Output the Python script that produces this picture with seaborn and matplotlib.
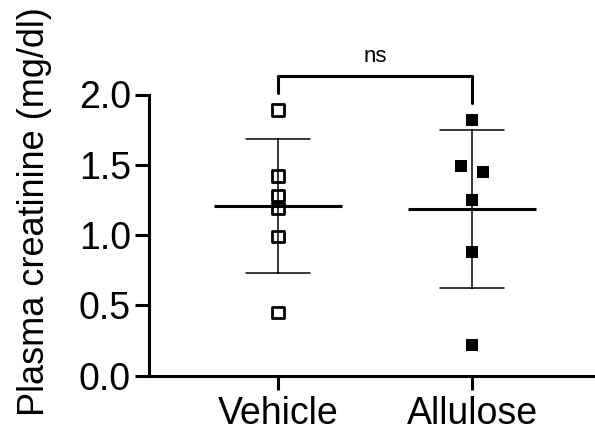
import numpy as np
import pandas as pd
import matplotlib.pyplot as plt
import seaborn as sns

# values
groups = ["Vehicle", "Allulose"]
vehicle = [1.89, 1.42, 1.28, 1.19, 0.99, 0.45]
allulose = [1.82, 1.49, 1.45, 1.25, 0.88, 0.22]
y_ticks = [0.0, 0.5, 1.0, 1.5, 2.0]
y_label = "Plasma creatinine (mg/dl)"
sig_label = "ns"

df = pd.DataFrame({
    "group": ["Vehicle"] * len(vehicle) + ["Allulose"] * len(allulose),
    "value": vehicle + allulose,
})


def spread(vals, gap=0.06, step=0.059):
    # side-by-side placement for points that would sit on top of each other
    vals = np.asarray(vals)
    off = np.zeros(len(vals))
    order = np.argsort(-vals)
    i = 0
    while i < len(order):
        j = i
        while j + 1 < len(order) and vals[order[i]] - vals[order[j + 1]] < gap:
            j += 1
        n = j - i + 1
        if n > 1:
            for k in range(n):
                off[order[i + k]] = (k - (n - 1) / 2) * 2 * step
        i = j + 1
    return off


df["pos"] = df["group"].map({g: i for i, g in enumerate(groups)})
df["xpos"] = df["pos"] + np.concatenate([spread(vehicle), spread(allulose)])

sns.set_style("ticks")
plt.rcParams["font.family"] = ["Liberation Sans", "DejaVu Sans"]
plt.rcParams["text.color"] = "black"
plt.rcParams["axes.labelcolor"] = "black"

fig = plt.figure(figsize=(5.95, 4.43), dpi=100)
ax = fig.add_axes([149 / 595, 67.5 / 443, 451 / 595, 281 / 443])

# mean line + SD error bars
sns.pointplot(data=df, x="group", y="value", order=groups, errorbar="sd",
              capsize=0.33, color="black", marker="_", markersize=92,
              markeredgewidth=2.2, linestyle="none",
              err_kws={"linewidth": 1.1}, ax=ax)

veh = df[df["group"] == "Vehicle"]
all_ = df[df["group"] == "Allulose"]
sns.scatterplot(x=veh["xpos"], y=veh["value"], marker="s", s=64,
                facecolor="none", edgecolor="black", linewidth=2.0,
                zorder=5, ax=ax)
sns.scatterplot(x=all_["xpos"], y=all_["value"], marker="s", s=80,
                color="black", linewidth=0, zorder=5, ax=ax)

# significance bracket
top_v = max(vehicle) + 0.12
top_a = max(allulose) + 0.12
bar = max(vehicle + allulose) + 0.24
ax.plot([0, 0, 1, 1], [top_v, bar, bar, top_a], color="black", lw=2.2,
        clip_on=False)
ax.text(0.5, bar + 0.1, sig_label, ha="center", va="baseline", fontsize=16,
        color="black")

ax.set_xlim(-0.665, -0.665 + 451 / 194)
ax.set_ylim(0, 2.0)
ax.set_xticks(range(len(groups)))
ax.set_xticklabels(groups)
ax.set_yticks(y_ticks)
ax.set_yticklabels([f"{t:.1f}" for t in y_ticks])
ax.set_xlabel("")
ax.set_ylabel(y_label, fontsize=26, color="black")
ax.yaxis.set_label_coords(-0.215, 0.584)

for side in ["top", "right"]:
    ax.spines[side].set_visible(False)
for side in ["left", "bottom"]:
    ax.spines[side].set_linewidth(2.2)
    ax.spines[side].set_color("black")
ax.tick_params(width=2.2, length=10, labelsize=27, colors="black")
ax.tick_params(axis="y", pad=3)
ax.tick_params(axis="x", pad=5)

fig.savefig("out.png", dpi=100)
